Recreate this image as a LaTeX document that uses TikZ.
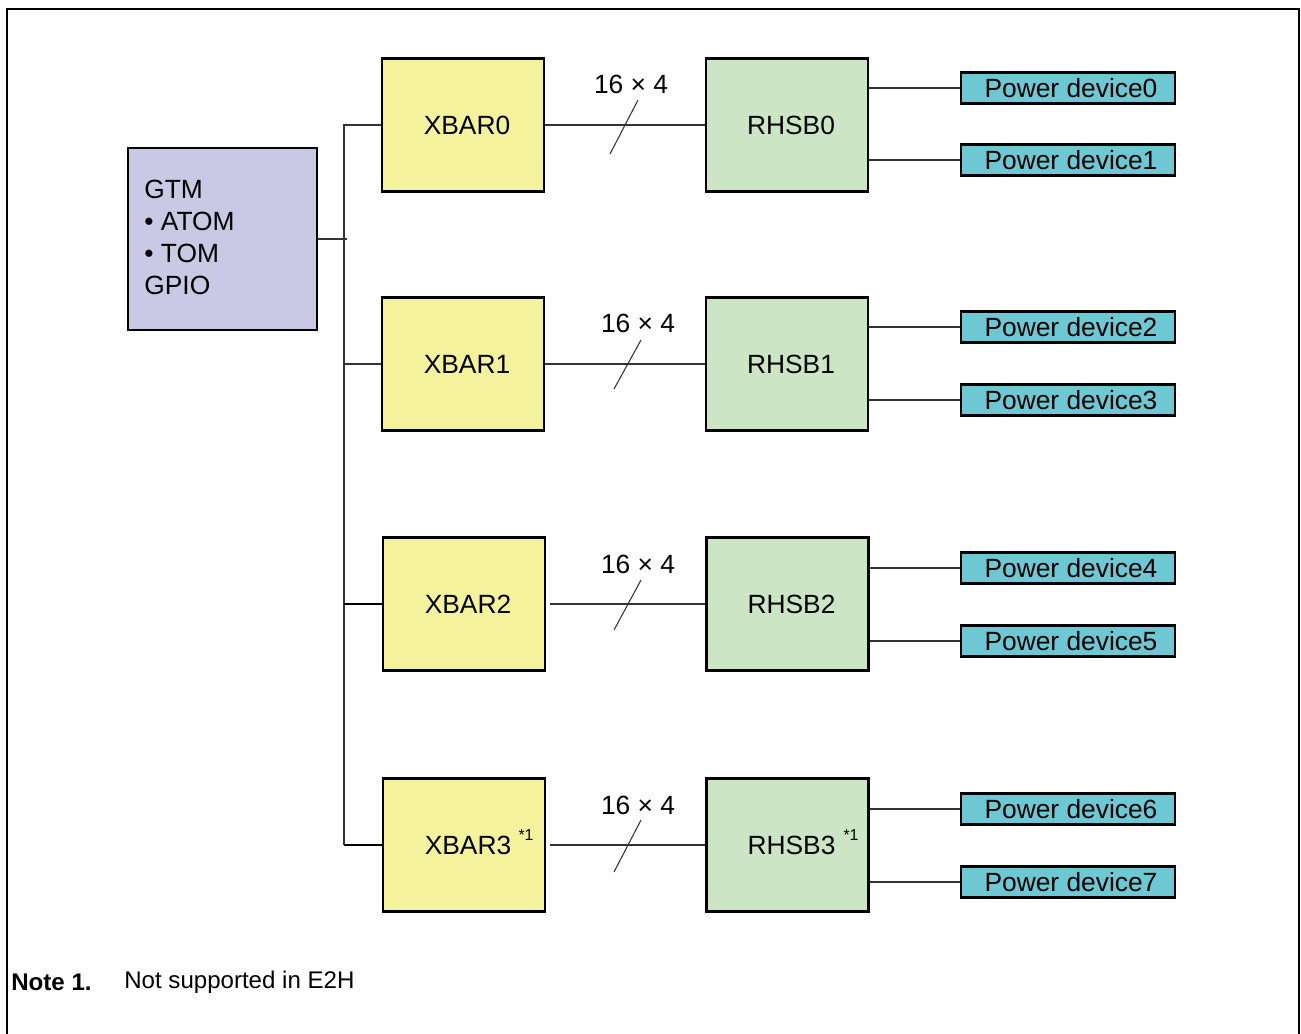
\documentclass[tikz,border=0pt]{standalone}
\usepackage{fontspec}
\setmainfont{Liberation Sans}
\definecolor{xbarfill}{HTML}{F5F29D}
\definecolor{rhsbfill}{HTML}{CCE5C4}
\definecolor{gtmfill}{HTML}{C9C9E5}
\definecolor{pwrfill}{HTML}{6DC8D4}
\tikzset{
  blk/.style={draw=black, line width=1.2pt, inner sep=0pt, font=\fontsize{15}{18}\selectfont},
  xbarbox/.style={blk, fill=xbarfill, minimum width=3.24cm, minimum height=2.66cm, execute at begin node=\hspace*{0.16cm}},
  rhsbbox/.style={blk, fill=rhsbfill, minimum width=3.24cm, minimum height=2.66cm, execute at begin node=\hspace*{0.16cm}},
  pwrbox/.style={blk, fill=pwrfill, minimum width=4.28cm, minimum height=0.62cm, execute at begin node=\hspace*{0.12cm}},
  gtmbox/.style={blk, fill=gtmfill, minimum width=3.78cm, minimum height=3.64cm},
  wire/.style={draw=black!80, line width=0.6pt},
  buswire/.style={draw=black, line width=1.1pt},
  lbl/.style={inner sep=0pt, font=\fontsize{15}{18}\selectfont},
  supl/.style={inner sep=0pt, font=\fontsize{9}{10}\selectfont},
  frame/.style={draw=black, line width=1.2pt}
}
\begin{document}
\begin{tikzpicture}[x=0.02cm,y=-0.02cm]
\useasboundingbox (0,0) rectangle (1301,1034);
% outer frame (open at bottom)
\draw[frame] (7,1040) -- (7,9) -- (1299,9) -- (1299,1040);

% GTM block
\node[gtmbox] (gtm) at (222.5,239) {};
\node[lbl, anchor=west, align=left, font=\fontsize{15}{18.2}\selectfont] (gtmtext) at (144,237) {GTM\\• ATOM\\• TOM\\GPIO};

% XBAR blocks
\node[xbarbox] (x0) at (463,125) {XBAR0};
\node[xbarbox] (x1) at (463,364) {XBAR1};
\node[xbarbox] (x2) at (464,604) {XBAR2};
\node[xbarbox] (x3) at (464,845) {XBAR3};
\node[supl] (x3n) at (526,835) {*1};

% RHSB blocks
\node[rhsbbox] (r0) at (787,125) {RHSB0};
\node[rhsbbox] (r1) at (787,364) {RHSB1};
\node[rhsbbox] (r2) at (787.5,604) {RHSB2};
\node[rhsbbox] (r3) at (787.5,845) {RHSB3};
\node[supl] (r3n) at (851,835) {*1};

% Power devices
\node[pwrbox] (p0) at (1068,88) {Power device0};
\node[pwrbox] (p1) at (1068,160) {Power device1};
\node[pwrbox] (p2) at (1068,327) {Power device2};
\node[pwrbox] (p3) at (1068,400) {Power device3};
\node[pwrbox] (p4) at (1068,568) {Power device4};
\node[pwrbox] (p5) at (1068,641) {Power device5};
\node[pwrbox] (p6) at (1068,809) {Power device6};
\node[pwrbox] (p7) at (1068,882) {Power device7};

% bus
\coordinate (bus) at (344,0);
\coordinate (gtmend) at (347,0);
\draw[wire] (gtm.east) -- (gtm.east -| gtmend);
\draw[wire] (x0.west) -- (x0.west -| bus) -- (x3.west -| bus);
\draw[wire] (x1.west) -- (x1.west -| bus);
\draw[buswire] (x2.west) -- (x2.west -| bus);
\draw[buswire] (x3.west) -- (x3.west -| bus);

% XBAR -> RHSB
\draw[wire] (x0.east) -- (r0.west);
\draw[wire] (x1.east) -- (r1.west);
\draw[wire] ([xshift=0.08cm]x2.east) -- (r2.west);
\draw[wire] ([xshift=0.08cm]x3.east) -- (r3.west);

% bus width marks
\node[lbl] (w0) at (631,84) {16 × 4};
\node[lbl] (w1) at (638,323) {16 × 4};
\node[lbl] (w2) at (638,564) {16 × 4};
\node[lbl] (w3) at (638,805) {16 × 4};
\draw[wire] (610,154) -- (638,100);
\draw[wire] (614,389) -- (641,340);
\draw[wire] (614,630) -- (641,580);
\draw[wire] (614,872) -- (641,820);

% RHSB -> power devices
\foreach \r/\a/\b in {r0/p0/p1, r1/p2/p3, r2/p4/p5, r3/p6/p7}{
  \draw[wire] (\a.west -| \r.east) -- (\a.west);
  \draw[wire] (\b.west -| \r.east) -- (\b.west);
}

% note
\node[lbl, anchor=west, font=\bfseries\fontsize{13.7}{16}\selectfont] (note) at (11,982) {Note 1.};
\node[lbl, anchor=west, font=\fontsize{13.7}{16}\selectfont] (notetext) at (124,982) {Not supported in E2H};
\end{tikzpicture}
\end{document}
